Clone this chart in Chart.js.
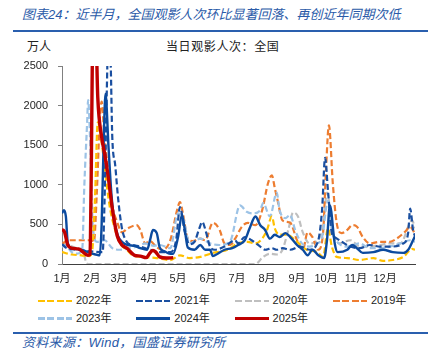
<!DOCTYPE html>
<html>
<head>
<meta charset="utf-8">
<script src="https://cdn.jsdelivr.net/npm/chart.js@4.4.1/dist/chart.umd.min.js"></script>
<style>
  body { margin: 0; width: 446px; height: 358px; background: #fff; position: relative; overflow: hidden;
         font-family: "Liberation Sans", "Noto Sans CJK SC", sans-serif; }
  .abs { position: absolute; white-space: nowrap; }
  #title { left: 22px; top: 6px; font-size: 13px; font-style: italic; color: #2a5aa8; line-height: 18px; }
  .rule { left: 13px; width: 415px; height: 2px; background: #2a5fae; }
  #unit { left: 27px; top: 40px; font-size: 12px; color: #222; line-height: 14px; }
  #sub { left: 166px; top: 40px; font-size: 12px; color: #222; letter-spacing: 0.6px; line-height: 14px; }
  #source { left: 22px; top: 335px; font-size: 13px; font-style: italic; color: #2a5aa8; line-height: 16px; letter-spacing: 0.3px; }
  #wrap { left: 0; top: 0; width: 446px; height: 290px; }
  .legtxt { font-size: 11px; color: #222; line-height: 13px; }
</style>
</head>
<body>
<div id="title" class="abs">图表24：近半月，全国观影人次环比显著回落、再创近年同期次低</div>
<div class="abs rule" style="top:30px"></div>
<div id="unit" class="abs">万人</div>
<div id="sub" class="abs">当日观影人次：全国</div>
<div id="wrap" class="abs"><canvas id="chart" width="446" height="290"></canvas></div>
<div id="legend"></div>
<div class="abs rule" style="top:332px"></div>
<div id="source" class="abs">资料来源：Wind，国盛证券研究所</div>
<script>
// month ticks (day of year)
const monthStart = [0, 31, 59, 90, 120, 151, 181, 212, 243, 273, 304, 334];
const monthLabels = ['1月', '2月', '3月', '4月', '5月', '6月', '7月', '8月', '9月', '10月', '11月', '12月'];

// daily admissions (万人): day of year + value
const d2022 = [0,10,20,28,31,34,37,42,46,50,55,60,67,73,84,98,112,122,132,143,156,171,182,192,200,207,212,217,220,225,233,243,253,264,270,275,279,284,295,308,322,332,342,353,362,365];
const v2022 = [150,120,110,100,150,800,1790,1440,1020,680,430,260,180,110,90,75,50,110,75,90,140,180,260,280,260,320,430,600,450,370,370,280,180,150,90,450,220,90,75,50,75,40,50,90,190,180];

const d2021 = [0,5,15,30,42,44,46,48,50,52,55,58,62,67,73,81,91,101,112,118,122,127,132,137,142,145,149,153,158,168,179,182,189,196,205,210,217,222,228,236,246,256,265,269,272,275,279,282,287,298,308,318,329,339,353,358,360,363,365];
const v2021 = [250,200,180,160,150,800,2000,2900,2700,1600,1250,830,450,280,240,220,180,150,150,300,720,400,250,280,450,530,400,220,180,220,300,260,340,300,220,180,200,180,200,180,220,180,300,700,1340,930,390,340,300,220,200,240,220,220,260,400,700,430,350];

const d2020 = [0,8,16,22,24,27,200,208,215,222,228,234,239,244,249,256,264,270,274,280,287,298,308,318,329,339,350,362,365];
const v2020 = [250,230,200,180,60,0,0,90,130,120,180,430,650,600,400,260,300,470,900,390,260,300,220,220,240,260,260,550,450];

const d2019 = [0,6,19,31,33,36,39,41,44,48,52,57,62,68,77,81,86,91,98,104,112,119,122,125,130,135,143,148,156,163,168,174,179,186,192,200,207,213,217,220,223,228,236,243,249,254,259,265,270,273,276,280,284,289,295,300,305,311,318,329,339,346,355,360,365];
const v2019 = [250,300,300,300,280,900,1800,2050,1590,1160,740,530,400,450,490,430,260,290,210,180,300,680,780,640,320,290,320,300,520,430,260,240,320,470,520,490,680,1020,1120,960,800,550,520,300,180,400,340,180,400,1200,1750,1020,520,390,430,490,470,340,260,280,280,320,410,470,380];

const d2023 = [0,3,10,16,21,23,26,27,29,31,32,36,44,52,60,70,80,86,95,101,112,120,125,132,143,153,163,174,184,191,197,205,208,215,222,225,231,236,241,248,256,264,269,275,279,284,295,308,318,329,339,350,360,365];
const v2023 = [215,240,150,130,200,960,1790,2070,1590,740,450,280,300,200,180,200,230,260,230,240,200,640,590,260,320,260,240,290,740,660,640,680,770,600,900,680,580,620,430,260,220,260,340,800,430,290,220,260,200,200,220,260,300,280];

const d2024 = [0,2,4,6,10,19,27,31,35,39,41,43,45,48,51,54,58,62,68,75,81,88,91,94,98,101,106,112,115,120,124,127,130,137,143,148,153,156,161,168,176,182,189,194,200,205,210,215,220,225,231,236,243,249,254,259,265,271,274,277,282,285,295,300,305,311,322,332,342,353,358,363,365];
const v2024 = [640,680,600,260,200,180,150,130,120,110,500,1500,2150,1500,900,550,350,280,240,230,200,180,300,430,390,210,160,130,130,340,620,430,210,180,240,180,180,100,130,180,200,240,300,450,600,490,430,320,370,340,390,340,240,180,110,180,110,75,300,740,260,150,180,240,200,140,150,180,150,140,180,300,350];

const d2025 = [0,2,6,10,17,27,29,30,32,35,37,41,44,48,52,57,62,67,75,81,87,91,94,97,101,108,115];
const v2025 = [430,420,240,200,190,110,120,900,2900,2900,2100,1600,1400,1080,700,360,240,200,110,100,80,140,170,150,90,75,80];

const yTicks = [0, 500, 1000, 1500, 2000, 2500];

const series = [
  { name: '2022年', days: d2022, vals: v2022, color: '#FFC000', dash: true,  width: 2.2, order: 3 },
  { name: '2021年', days: d2021, vals: v2021, color: '#1A4FA0', dash: true,  width: 2.2, order: 2 },
  { name: '2020年', days: d2020, vals: v2020, color: '#BFBFBF', dash: true,  width: 2.2, order: 6 },
  { name: '2019年', days: d2019, vals: v2019, color: '#ED7D31', dash: true,  width: 2.2, order: 5 },
  { name: '2023年', days: d2023, vals: v2023, color: '#9DC3E6', dash: true,  width: 2.2, order: 4 },
  { name: '2024年', days: d2024, vals: v2024, color: '#0B4A9E', dash: false, width: 2.4, order: 1 },
  { name: '2025年', days: d2025, vals: v2025, color: '#C00000', dash: false, width: 3.4, order: 0 }
];

Chart.defaults.font.family = '"Liberation Sans", "Noto Sans CJK SC", sans-serif';
Chart.defaults.font.size = 11;
Chart.defaults.color = '#262626';

new Chart(document.getElementById('chart'), {
  type: 'line',
  data: {
    datasets: series.map(s => ({
      label: s.name,
      data: s.days.map((d, i) => ({ x: d, y: s.vals[i] })),
      borderColor: s.color,
      borderWidth: s.width,
      borderDash: s.dash ? [6, 3] : [],
      pointRadius: 0,
      fill: false,
      tension: 0.3,
      cubicInterpolationMode: 'monotone',
      order: s.order
    }))
  },
  options: {
    responsive: false,
    animation: false,
    devicePixelRatio: 1,
    layout: { padding: { left: 12, right: 31, top: 66, bottom: 6 } },
    plugins: { legend: { display: false }, tooltip: { enabled: false } },
    scales: {
      x: {
        type: 'linear',
        min: 0,
        max: 365,
        grid: { display: false, drawTicks: false },
        border: { display: true, color: '#404040', width: 1 },
        afterBuildTicks: s => { s.ticks = monthStart.map(v => ({ value: v })); },
        afterFit: s => { s.height = 20; },
        ticks: {
          autoSkip: false,
          maxRotation: 0,
          padding: 8,
          callback: v => monthLabels[monthStart.indexOf(v)]
        }
      },
      y: {
        min: 0,
        max: 2500,
        grid: { drawOnChartArea: false, drawTicks: true, tickLength: 4, color: '#808080' },
        border: { display: true, color: '#808080', width: 1 },
        afterBuildTicks: s => { s.ticks = yTicks.map(v => ({ value: v })); },
        afterFit: s => { s.width = 50; },
        ticks: { padding: 10, callback: v => String(v) }
      }
    }
  }
});

// legend, 4 columns
const legend = document.getElementById('legend');
series.forEach((s, i) => {
  const col = i % 4, row = Math.floor(i / 4);
  const left = 38 + col * 98.3;
  const cy = 301 + row * 17.5;
  const line = document.createElement('div');
  line.className = 'abs';
  const h = s.dash ? 2.6 : (s.width > 3 ? 3.4 : 2.8);
  line.style.cssText = `left:${left}px;top:${cy - h / 2}px;width:34px;height:${h}px;` +
    (s.dash ? `background:repeating-linear-gradient(90deg, ${s.color} 0 7px, transparent 7px 9.5px);`
            : `background:${s.color};`);
  legend.appendChild(line);
  const txt = document.createElement('div');
  txt.className = 'abs legtxt';
  txt.style.left = (left + 38) + 'px';
  txt.style.top = (cy - 7) + 'px';
  txt.textContent = s.name;
  legend.appendChild(txt);
});
</script>
</body>
</html>
